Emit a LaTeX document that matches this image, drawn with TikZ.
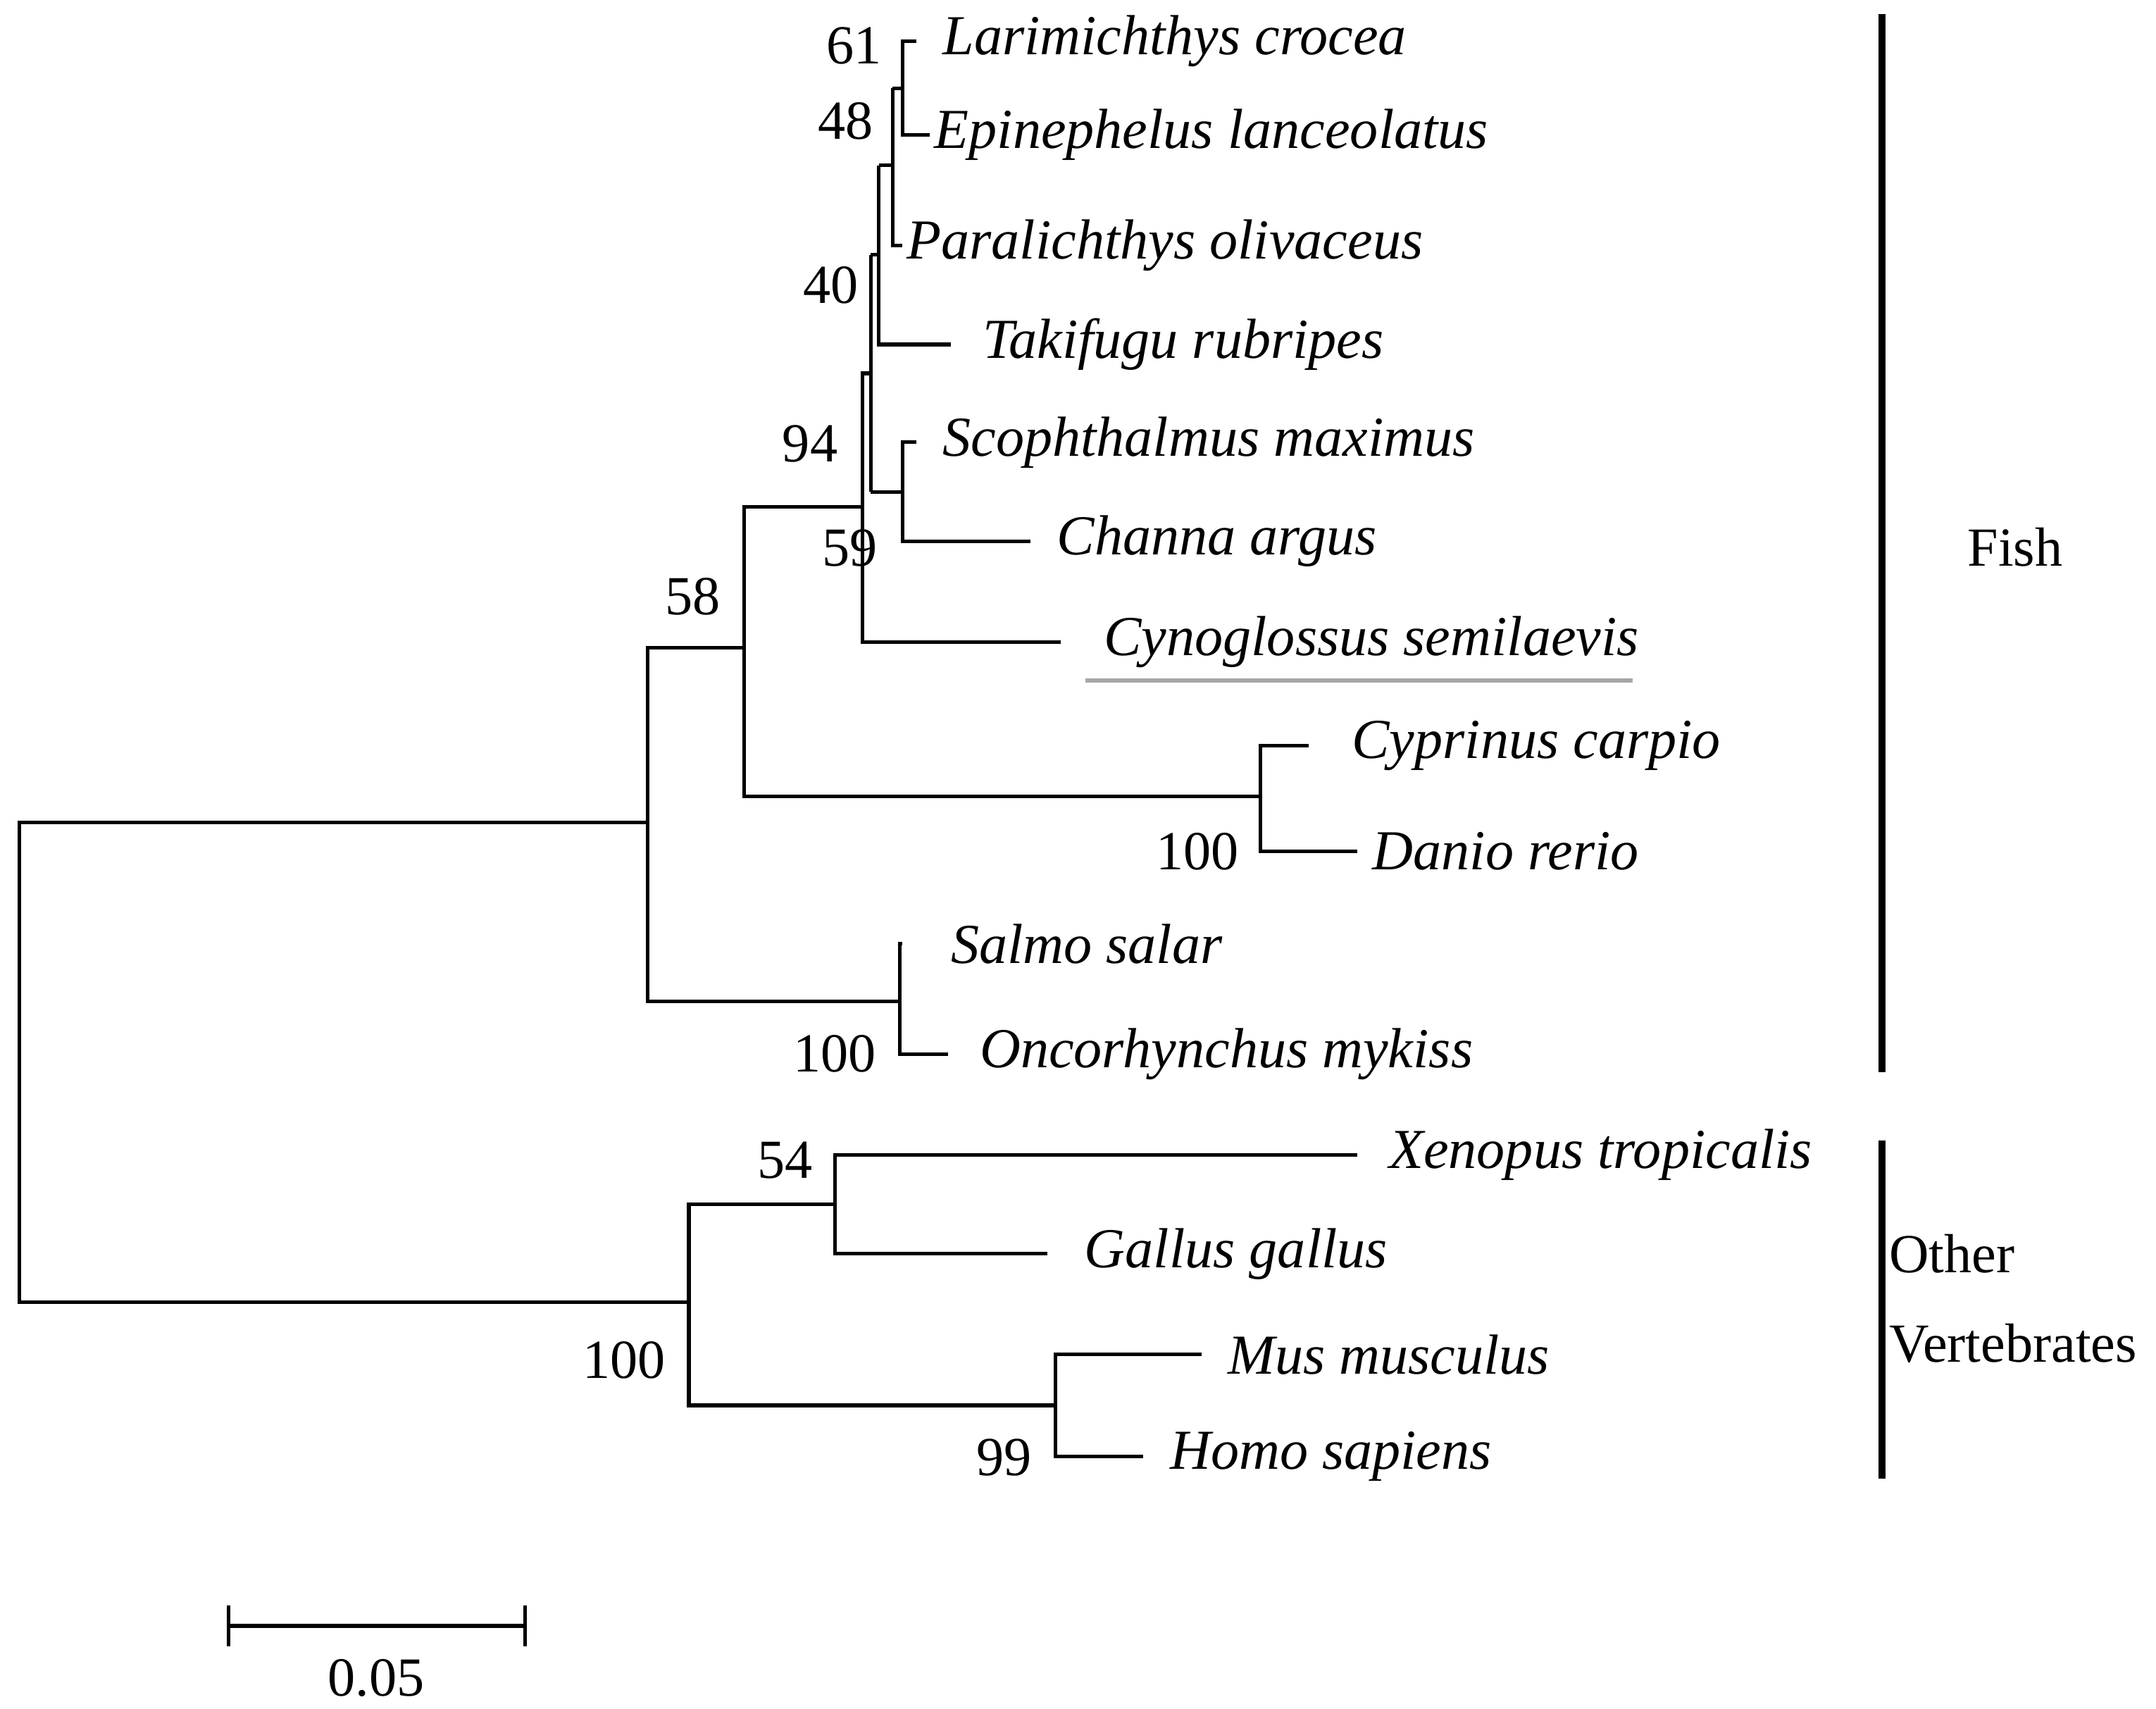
\documentclass[tikz,border=0pt]{standalone}
\usepackage{fontspec}
\setmainfont{Liberation Serif}
\begin{document}
\begin{tikzpicture}[x=0.5pt,y=-0.5pt,line width=1.3pt,
 sp/.style={anchor=west,font=\fontsize{20.5}{24}\selectfont\itshape,inner sep=1pt},
 bs/.style={font=\fontsize{20}{24}\selectfont,inner sep=1pt},
 gl/.style={font=\fontsize{20}{24}\selectfont,anchor=west,inner sep=1pt}]
\useasboundingbox (0,0) rectangle (1565,1240);
% tips
\coordinate (t1) at (665,30);\coordinate (t2) at (675,98);\coordinate (t3) at (655,178);
\coordinate (t4) at (690,250);\coordinate (t5) at (665,321);\coordinate (t6) at (748,393);
\coordinate (t7) at (770,466);\coordinate (t8) at (950,541);\coordinate (t9) at (985,618);
\coordinate (t10) at (655,685);\coordinate (t11) at (688,765);\coordinate (t12) at (985,838);
\coordinate (t13) at (760,910);\coordinate (t14) at (872,983);\coordinate (t15) at (830,1057);
\node[sp] at ([xshift=8]t1) {Larimichthys crocea};
\node[sp] at (t2) {Epinephelus lanceolatus};
\node[sp] at (t3) {Paralichthys olivaceus};
\node[sp] at ([xshift=10]t4) {Takifugu rubripes};
\node[sp] at ([xshift=8]t5) {Scophthalmus maximus};
\node[sp] at ([xshift=8]t6) {Channa argus};
\node[sp] (cy) at ([xshift=14]t7) {Cynoglossus semilaevis};
\node[sp] at ([xshift=14]t8) {Cyprinus carpio};
\node[sp] at ([xshift=4]t9) {Danio rerio};
\node[sp] at ([xshift=16]t10) {Salmo salar};
\node[sp] at ([xshift=10]t11) {Oncorhynchus mykiss};
\node[sp] at ([xshift=10]t12) {Xenopus tropicalis};
\node[sp] at ([xshift=12]t13) {Gallus gallus};
\node[sp] at ([xshift=8]t14) {Mus musculus};
\node[sp] at ([xshift=8]t15) {Homo sapiens};
\draw[gray!70,line width=1.5pt] (788,494) -- (1185,494);
% tree
\draw (t1) -| (655,64) |- (t2);
\draw (655,64) -- (648,64); \draw (648,64) |- (t3);
\draw (648,64) -- (648,120) -- (638,120); \draw (648,120)--(648,178);
\draw (638,120) |- (t4);
\draw (t5) -| (655,357) |- (t6);
\draw (638,185) -- (632,185); \draw (655,357) -- (632,357); \draw (632,185) -- (632,357);
\draw (632,271) -- (626,271) |- (t7);
\draw (626,368) -- (540,368) |- (915,578);
\draw (t8) -| (915,578) |- (t9);
\draw (540,470) -- (470,470) |- (653,727);
\draw (t10) -| (653,727) |- (t11);
\draw (470,597) -- (14,597) |- (500,945);
\draw (t12) -| (606,874) |- (t13);
\draw (606,874) -- (500,874) |- (766,1020);
\draw (t14) -| (766,1020) |- (t15);
% bootstrap
\node[bs] at (620,33) {61};
\node[bs] at (614,88) {48};
\node[bs] at (603,207) {40};
\node[bs] at (588,322) {94};
\node[bs] at (617,398) {59};
\node[bs] at (503,433) {58};
\node[bs] at (869,618) {100};
\node[bs] at (606,765) {100};
\node[bs] at (570,842) {54};
\node[bs] at (453,987) {100};
\node[bs] at (729,1058) {99};
% groups
\draw[line width=2.5pt] (1366,10) -- (1366,778);
\draw[line width=2.5pt] (1366,828) -- (1366,1073);
\node[gl] at (1425,397) {Fish};
\node[gl] at (1368,910) {Other};
\node[gl] at (1368,975) {Vertebrates};
% scale
\draw (166,1180) -- (381,1180); \draw (166,1165)--(166,1195); \draw (381,1165)--(381,1195);
\node[bs] at (273,1218) {0.05};
\end{tikzpicture}
\end{document}
